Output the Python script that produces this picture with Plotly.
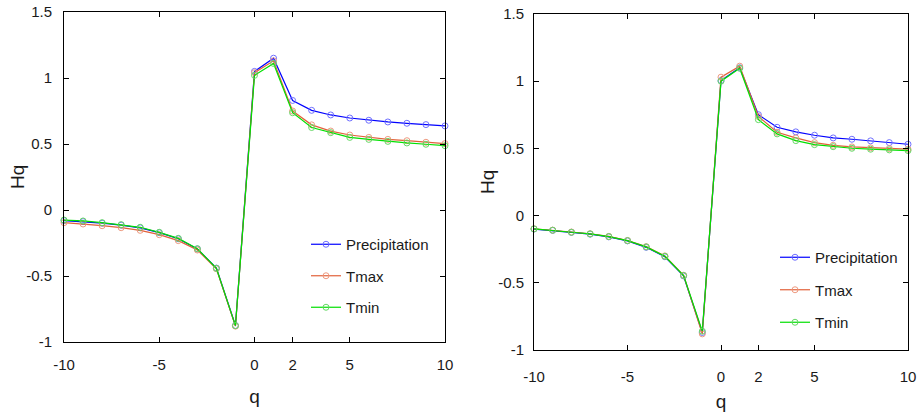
import plotly.graph_objects as go

q = list(range(-10, 11))

precip_left = [-0.080, -0.088, -0.100, -0.115, -0.135, -0.172, -0.218, -0.295, -0.440, -0.875,
               1.050, 1.150, 0.830, 0.755, 0.720, 0.697, 0.680, 0.667, 0.657, 0.647, 0.637]
tmax_left = [-0.096, -0.106, -0.119, -0.134, -0.154, -0.187, -0.232, -0.303, -0.445, -0.880,
             1.040, 1.130, 0.750, 0.645, 0.598, 0.568, 0.550, 0.535, 0.525, 0.513, 0.503]
tmin_left = [-0.076, -0.083, -0.096, -0.111, -0.131, -0.169, -0.215, -0.293, -0.442, -0.876,
             1.020, 1.110, 0.737, 0.625, 0.586, 0.550, 0.535, 0.520, 0.508, 0.498, 0.487]

precip_right = [-0.100, -0.110, -0.125, -0.138, -0.158, -0.188, -0.236, -0.306, -0.449, -0.870,
                1.005, 1.100, 0.751, 0.657, 0.623, 0.598, 0.578, 0.568, 0.556, 0.543, 0.531]
tmax_right = [-0.098, -0.108, -0.122, -0.135, -0.155, -0.185, -0.231, -0.300, -0.444, -0.880,
              1.030, 1.112, 0.737, 0.620, 0.578, 0.543, 0.523, 0.511, 0.504, 0.499, 0.494]
tmin_right = [-0.099, -0.109, -0.124, -0.136, -0.156, -0.186, -0.233, -0.303, -0.446, -0.860,
              1.000, 1.096, 0.714, 0.608, 0.558, 0.528, 0.513, 0.501, 0.494, 0.489, 0.484]

series_names = ["Precipitation", "Tmax", "Tmin"]
line_colors = ["#0000FF", "#E2613A", "#00E000"]
marker_colors = ["#7070FF", "#EE9A80", "#66D866"]

x_tickvals = [-10, -5, 0, 2, 5, 10]
x_ticktext = ["-10", "-5", "0", "2", "5", "10"]
y_tickvals = [-1, -0.5, 0, 0.5, 1, 1.5]
y_ticktext = ["-1", "-0.5", "0", "0.5", "1", "1.5"]
y_title = "Hq"
x_title = "q"

FONT = "Liberation Sans, Arial, sans-serif"
TXT = "#1a1a1a"
W, H = 923, 416

fig = go.Figure()

panels = [
    ("x", "y", "legend", [precip_left, tmax_left, tmin_left]),
    ("x2", "y2", "legend2", [precip_right, tmax_right, tmin_right]),
]
for xa, ya, lg, data in panels:
    for name, lc, mc, ys in zip(series_names, line_colors, marker_colors, data):
        fig.add_trace(go.Scatter(
            x=q, y=ys, name=name, mode="lines+markers",
            xaxis=xa, yaxis=ya, legend=lg, legendgroup=lg + name,
            line=dict(color=lc, width=1.2),
            marker=dict(symbol="circle-open", size=6, color=mc, line=dict(width=1, color=mc)),
            cliponaxis=False,
        ))

ax_common = dict(
    showline=True, linecolor="black", linewidth=1, mirror="ticks",
    ticks="inside", ticklen=5, tickcolor="black", showgrid=False, zeroline=False,
    tickfont=dict(family=FONT, size=15, color=TXT), automargin=False,
    ticklabeloverflow="allow",
)
title_font = dict(size=19, family=FONT, color=TXT)

fig.update_layout(
    width=W, height=H,
    margin=dict(l=0, r=0, t=0, b=0),
    paper_bgcolor="white", plot_bgcolor="white",
    font=dict(family=FONT, color=TXT),
    xaxis=dict(domain=[64/W, 445/W], range=[-10, 10], tickvals=x_tickvals, ticktext=x_ticktext,
               anchor="y", ticklabelstandoff=9,
               title=dict(text=x_title, font=title_font, standoff=17), **ax_common),
    yaxis=dict(domain=[1-342/H, 1-12/H], range=[-1, 1.5], tickvals=y_tickvals, ticktext=y_ticktext,
               anchor="x", ticklabelstandoff=8, **ax_common),
    xaxis2=dict(domain=[534/W, 908/W], range=[-10, 10], tickvals=x_tickvals, ticktext=x_ticktext,
                anchor="y2", ticklabelstandoff=13,
                title=dict(text=x_title, font=title_font, standoff=10), **ax_common),
    yaxis2=dict(domain=[1-350/H, 1-14/H], range=[-1, 1.5], tickvals=y_tickvals, ticktext=y_ticktext,
                anchor="x2", ticklabelstandoff=6, **ax_common),
    legend=dict(x=306/W, y=1-228/H, xanchor="left", yanchor="top", bgcolor="rgba(0,0,0,0)",
                font=dict(family=FONT, size=15, color=TXT), traceorder="grouped", tracegroupgap=9,
                itemwidth=30),
    legend2=dict(x=775/W, y=1-241/H, xanchor="left", yanchor="top", bgcolor="rgba(0,0,0,0)",
                 font=dict(family=FONT, size=15, color=TXT), traceorder="grouped", tracegroupgap=10,
                 itemwidth=30),
    showlegend=True,
    annotations=[
        dict(text=y_title, textangle=-90, xref="paper", yref="paper", x=18/W, y=1-177/H,
             xanchor="center", yanchor="middle", showarrow=False, font=title_font),
        dict(text=y_title, textangle=-90, xref="paper", yref="paper", x=487/W, y=1-182/H,
             xanchor="center", yanchor="middle", showarrow=False, font=title_font),
    ],
)

fig.write_html("out.html", config={"displayModeBar": False},
               post_script="document.body.style.margin='0';")
